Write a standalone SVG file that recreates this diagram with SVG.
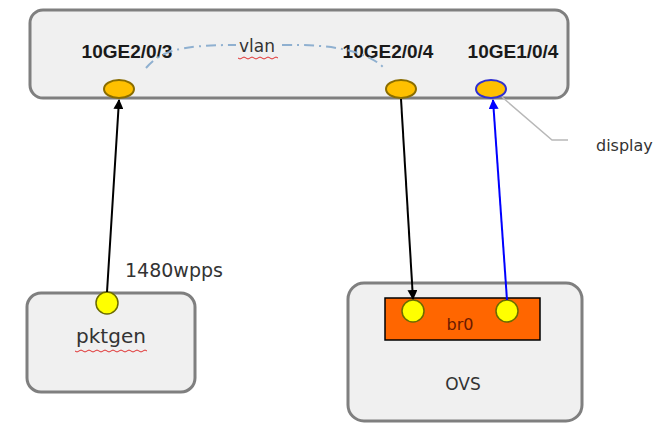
<svg xmlns="http://www.w3.org/2000/svg" width="672" height="424" viewBox="0 0 672 424">
<defs>
<style>
.box{fill:#f0f0f0;stroke:#7f7f7f;stroke-width:3}
.port{fill:#ffc000;stroke:#8a6d00;stroke-width:2}
.dot{fill:#ffff00;stroke:#6b6b00;stroke-width:1.5}
.lbl{font-family:"Liberation Sans",Arial,sans-serif;font-weight:bold;font-size:19px;fill:#1a1a1a}
.txt{font-family:"DejaVu Sans",Verdana,sans-serif;font-size:14px;fill:#333}
.sq{fill:none;stroke:#e03030;stroke-width:1}
</style>
<marker id="ab" viewBox="0 0 10 10" refX="9" refY="5" markerWidth="5" markerHeight="5" orient="auto"><path d="M0,0L10,5L0,10z" fill="#000"/></marker>
<marker id="au" viewBox="0 0 10 10" refX="9" refY="5" markerWidth="5" markerHeight="5" orient="auto"><path d="M0,0L10,5L0,10z" fill="#0000ff"/></marker>
</defs>
<g id="switch">
<rect class="box" x="30" y="10" width="538" height="88" rx="13"/>
<text class="lbl" x="127" y="58" text-anchor="middle">10GE2/0/3</text>
<text class="lbl" x="388" y="58" text-anchor="middle">10GE2/0/4</text>
<text class="lbl" x="513" y="58" text-anchor="middle">10GE1/0/4</text>
<text class="txt" x="257" y="52" text-anchor="middle" style="font-size:17px">vlan</text>
<path class="sq" d="M238,58 q2,2 4,0 t4,0 t4,0 t4,0 t4,0 t4,0 t4,0 t4,0 t4,0 t4,0"/>
<ellipse id="p203" class="port" cx="119" cy="89" rx="15" ry="9"/>
<ellipse id="p204" class="port" cx="401" cy="89" rx="15" ry="9"/>
<ellipse id="p104" class="port" cx="491" cy="89" rx="15" ry="9" style="stroke:#3030d0"/>
</g>
<g id="pktgen">
<rect class="box" x="27" y="293" width="168" height="99" rx="14"/>
<circle class="dot" cx="107" cy="303" r="11"/>
<text class="txt" x="111" y="343" text-anchor="middle" style="font-size:20px">pktgen</text>
<path class="sq" d="M75,351 q2,2 4,0 t4,0 t4,0 t4,0 t4,0 t4,0 t4,0 t4,0 t4,0 t4,0 t4,0 t4,0 t4,0 t4,0 t4,0 t4,0 t4,0 t4,0"/>
</g>
<g id="ovs">
<rect class="box" x="348" y="283" width="234" height="138" rx="16"/>
<rect x="385" y="298" width="155" height="42" fill="#ff6600" stroke="#000" stroke-width="1.5"/>
<circle class="dot" cx="413" cy="311" r="11"/>
<circle class="dot" cx="507" cy="311" r="11"/>
<text class="txt" x="460" y="330" text-anchor="middle" style="fill:#6a1a00;font-size:16px">br0</text>
<text class="txt" x="463" y="390" text-anchor="middle" style="font-size:17px">OVS</text>
</g>
<g id="connectors">
<path d="M146,68 C160,52 176,45 236,45" fill="none" stroke="#8fb0d0" stroke-width="2" stroke-dasharray="10,5,2,5"/>
<path d="M282,45 C330,44 368,50 386,70" fill="none" stroke="#8fb0d0" stroke-width="2" stroke-dasharray="10,5,2,5"/>
<path d="M107,292 L119,100" stroke="#000" stroke-width="2" marker-end="url(#ab)"/>
<path d="M401,99 L413,299" stroke="#000" stroke-width="2" marker-end="url(#ab)"/>
<path d="M507,300 L493,100" stroke="#0000ff" stroke-width="2" marker-end="url(#au)"/>
<path d="M502,97 L552,140 L568,140" fill="none" stroke="#b8b8b8" stroke-width="1.5"/>
<text class="txt" x="596" y="151" style="font-size:16px">display</text>
<text class="txt" x="125" y="277" style="font-size:19px">1480wpps</text>
</g>
</svg>
